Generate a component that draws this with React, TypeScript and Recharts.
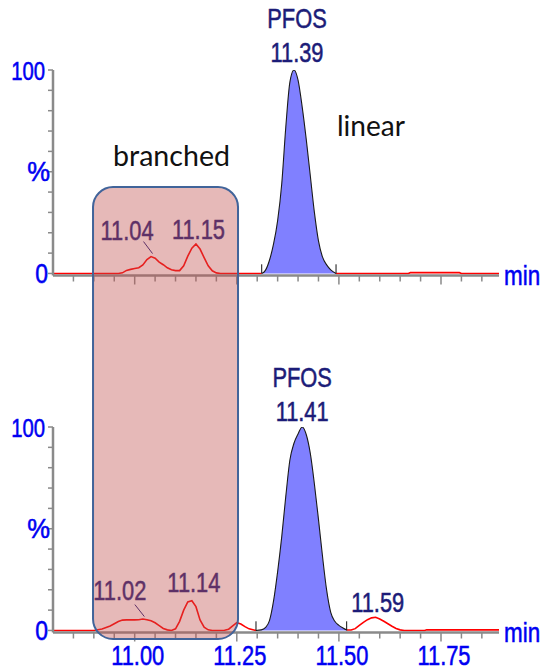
import React from 'react';
import {
  ComposedChart,
  Line,
  Area,
  XAxis,
  YAxis,
  ReferenceDot,
  ReferenceLine,
  ReferenceArea,
} from 'recharts';

const WIDTH = 543;
const HEIGHT = 670;

// Retention time axis (min)
const timeDomain: [number, number] = [10.8, 11.892];
const timeTicks = [
  10.85, 10.9, 10.95, 11.0, 11.05, 11.1, 11.15, 11.2, 11.25, 11.3, 11.35,
  11.4, 11.45, 11.5, 11.55, 11.6, 11.65, 11.7, 11.75, 11.8, 11.85,
];
const timeLabelTicks = [11.0, 11.25, 11.5, 11.75];
const timeLabels = ['11.00', '11.25', '11.50', '11.75'];

// Relative intensity axis (%)
const percentDomain: [number, number] = [-1, 100];
const percentTicks = [0, 10, 20, 30, 40, 50, 60, 70, 80, 90, 100];
const percentLabelTicks = [0, 50, 100];
const percentLabels = ['0', '%', '100'];

// Upper chromatogram
const upperTime = [
  10.8, 10.96, 10.97, 10.98, 10.99, 11.0, 11.01, 11.02, 11.03, 11.04, 11.05,
  11.06, 11.07, 11.08, 11.09, 11.1, 11.11, 11.12, 11.13, 11.14, 11.15, 11.16,
  11.17, 11.18, 11.19, 11.2, 11.21, 11.311, 11.32, 11.33, 11.34, 11.35, 11.36,
  11.37, 11.38, 11.39, 11.4, 11.41, 11.42, 11.43, 11.44, 11.45, 11.46, 11.47,
  11.48, 11.493, 11.67, 11.675, 11.795, 11.8, 11.892,
];
const upperSignal = [
  0, 0, 0.3, 1.5, 2.0, 2.4, 2.8, 4.2, 6.8, 8.3, 7.5,
  5.6, 4.3, 2.8, 1.8, 1.4, 1.4, 3.8, 8.5, 12.4, 14.5, 12.0,
  7.8, 3.8, 1.3, 0.3, 0, 0, 1.5, 6.5, 14.5, 26, 44,
  72, 94, 100, 95, 82, 66, 48, 30, 16, 8, 4.2,
  1.8, 0, 0, 0.4, 0.4, 0, 0,
];
const upperIntegration = [11.311, 11.493];
const upperPeakTimes = [11.04, 11.15, 11.39];
const upperPeakNames = ['', '', 'PFOS'];

// Lower chromatogram
const lowerTime = [
  10.8, 10.9, 10.92, 10.94, 10.95, 10.96, 10.97, 10.98, 10.99, 11.0, 11.01,
  11.02, 11.03, 11.04, 11.05, 11.06, 11.07, 11.08, 11.09, 11.1, 11.11, 11.12,
  11.13, 11.14, 11.15, 11.16, 11.17, 11.18, 11.19, 11.22, 11.23, 11.24, 11.25,
  11.26, 11.27, 11.28, 11.297, 11.31, 11.32, 11.33, 11.34, 11.35, 11.36, 11.37,
  11.38, 11.39, 11.4, 11.41, 11.42, 11.43, 11.44, 11.45, 11.46, 11.47, 11.48,
  11.49, 11.5, 11.51, 11.519, 11.53, 11.54, 11.55, 11.56, 11.57, 11.58, 11.59,
  11.6, 11.61, 11.62, 11.63, 11.64, 11.65, 11.66, 11.71, 11.715, 11.892,
];
const lowerSignal = [
  0, 0, 0.7, 2.2, 3.3, 4.4, 5.1, 5.2, 5.2, 5.2, 5.3,
  5.6, 5.3, 4.8, 3.8, 2.4, 1.0, 0.3, 0, 0.8, 4.5, 10,
  14, 14.6, 11.7, 5.2, 1.6, 0.3, 0, 0.1, 0.6, 2.2, 3.8,
  3.2, 1.9, 0.8, 0, 0.3, 1.4, 4.8, 14.5, 28.9, 46, 66,
  83.8, 92, 96.6, 100, 96.3, 87, 72, 54.6, 36.2, 19.8, 8.9,
  4.5, 2.5, 1.2, 0.2, 0.2, 0.9, 2.5, 4.0, 5.3, 6.2, 6.5,
  5.6, 4.5, 3.3, 2.1, 1.0, 0.3, 0, 0, 0.3, 0.3,
];
const lowerIntegration = [11.297, 11.519];
const lowerPeakTimes = [11.02, 11.14, 11.41, 11.59];
const lowerPeakNames = ['', '', 'PFOS', ''];

// Branched-isomer box: retention window and vertical span (lower trace % units)
const branchedStart = 10.898;
const branchedEnd = 11.253;
const branchedLow = -4.2;
const branchedHigh = 217.9;

// ---- presentation ----
const SOFT_FONT = "'Liberation Sans', Arial, Helvetica, sans-serif";
const NOTE_FONT = "Lato, 'Open Sans', sans-serif";
const AXIS_BLUE = '#0000F2';
const LABEL_NAVY = '#1C1C78';
const AXIS_GREY = '#8A8A8A';
const TRACE_RED = '#FF0000';
const PEAK_FILL = '#8080FF';

const Y_AXIS_WIDTH = 53;
const X_AXIS_HEIGHT = 30;
const upperMargin = { top: 70, bottom: HEIGHT - 275.5 - X_AXIS_HEIGHT, left: 0, right: 44 };
const lowerMargin = { top: 427, bottom: HEIGHT - 632.5 - X_AXIS_HEIGHT, left: 0, right: 44 };

type Placement = { dx: number; dy: number; leader?: [number, number, number, number] };

const upperPlacement: Placement[] = [
  { dx: -24, dy: -17, leader: [-7.5, -15, 1.5, -3] },
  { dx: 2.5, dy: -5 },
  { dx: 3, dy: -8 },
];
const lowerPlacement: Placement[] = [
  { dx: -23, dy: -19, leader: [-8, -14.5, 1.5, -2.5] },
  { dx: 2, dy: -9 },
  { dx: 0, dy: -6 },
  { dx: 2, dy: -5 },
];

// per-label horizontal offset, size and squeeze for the % axis labels
const percentLabelStyle = [
  { dx: -5, size: 27, squeeze: 0.85 },
  { dx: -3, size: 27, squeeze: 0.95 },
  { dx: -8, size: 26, squeeze: 0.78 },
];

type Row = { t: number; trace: number | null; peak: number | null };

// The red trace is drawn outside the integrated window; inside it the filled
// peak (with its own outline) takes over.
function buildRows(times: number[], signal: number[], window: number[]): Row[] {
  return times.map((t, i) => {
    const inside = t >= window[0] - 1e-9 && t <= window[1] + 1e-9;
    const edge = Math.abs(t - window[0]) < 1e-9 || Math.abs(t - window[1]) < 1e-9;
    return {
      t,
      trace: !inside || edge ? signal[i] : null,
      peak: inside ? signal[i] : null,
    };
  });
}

function signalAt(times: number[], signal: number[], t: number): number {
  const i = times.findIndex((v) => Math.abs(v - t) < 1e-9);
  return i >= 0 ? signal[i] : 0;
}

function SquishText(props: {
  x: number;
  y: number;
  children: React.ReactNode;
  size?: number;
  fill?: string;
  anchor?: 'start' | 'middle' | 'end';
  squeeze?: number;
}) {
  const { x, y, children, size = 28, fill = LABEL_NAVY, anchor = 'middle', squeeze = 0.78 } = props;
  return (
    <text
      transform={`translate(${x} ${y}) scale(${squeeze} 1)`}
      textAnchor={anchor}
      fontSize={size}
      fontFamily={SOFT_FONT}
      fill={fill}
      stroke={fill}
      strokeWidth={0.55}
    >
      {children}
    </text>
  );
}

function TimeTick(props: any) {
  const { x, y, payload, showLabel } = props;
  const v = payload.value as number;
  const li = timeLabelTicks.findIndex((m) => Math.abs(m - v) < 1e-6);
  const major = li >= 0;
  return (
    <g>
      <line x1={x} x2={x} y1={y} y2={y + (major ? 9 : 6)} stroke={AXIS_GREY} strokeWidth={1.5} />
      {showLabel && major && (
        <SquishText x={x + 3} y={y + 32} fill={AXIS_BLUE} size={28}>
          {timeLabels[li]}
        </SquishText>
      )}
    </g>
  );
}

function PercentTick(props: any) {
  const { x, y, payload } = props;
  const v = payload.value as number;
  const li = percentLabelTicks.indexOf(v);
  const st = li >= 0 ? percentLabelStyle[li] : null;
  return (
    <g>
      <line x1={x - 5} x2={x} y1={y} y2={y} stroke={AXIS_GREY} strokeWidth={1.5} />
      {st && (
        <SquishText x={x + st.dx} y={y + 9.5} fill={AXIS_BLUE} size={st.size} anchor="end" squeeze={st.squeeze}>
          {percentLabels[li]}
        </SquishText>
      )}
    </g>
  );
}

function MinLabel(props: any) {
  const vb = props.viewBox;
  if (!vb) return null;
  return (
    <SquishText x={vb.x + vb.width + 5} y={vb.y + 9} fill={AXIS_BLUE} size={28} anchor="start" squeeze={0.8}>
      min
    </SquishText>
  );
}

function PeakLabel(props: {
  cx: number;
  cy: number;
  time: number;
  name: string;
  place: Placement;
}) {
  const { cx, cy, time, name, place } = props;
  const x = cx + place.dx;
  const y = cy + place.dy;
  return (
    <g>
      {place.leader && (
        <line
          x1={cx + place.leader[0]}
          y1={cy + place.leader[1]}
          x2={cx + place.leader[2]}
          y2={cy + place.leader[3]}
          stroke={LABEL_NAVY}
          strokeWidth={1}
        />
      )}
      {name && (
        <SquishText x={x} y={y - 34}>
          {name}
        </SquishText>
      )}
      <SquishText x={x} y={y}>
        {time.toFixed(2)}
      </SquishText>
    </g>
  );
}

function Chromatogram(props: {
  times: number[];
  signal: number[];
  integration: number[];
  peakTimes: number[];
  peakNames: string[];
  placement: Placement[];
  margin: { top: number; bottom: number; left: number; right: number };
  showTimeLabels: boolean;
}) {
  const { times, signal, integration, peakTimes, peakNames, placement, margin, showTimeLabels } = props;
  const rows = buildRows(times, signal, integration);
  return (
    <ComposedChart width={WIDTH} height={HEIGHT} data={rows} margin={margin}>
      <XAxis
        dataKey="t"
        type="number"
        domain={timeDomain}
        allowDataOverflow
        ticks={timeTicks}
        interval={0}
        height={X_AXIS_HEIGHT}
        tickSize={0}
        tickMargin={0}
        tickLine={false}
        axisLine={{ stroke: AXIS_GREY, strokeWidth: 2.5 }}
        tick={(p: any) => <TimeTick {...p} showLabel={showTimeLabels} />}
        label={<MinLabel />}
      />
      <YAxis
        type="number"
        domain={percentDomain}
        allowDataOverflow
        ticks={percentTicks}
        interval={0}
        width={Y_AXIS_WIDTH}
        tickSize={0}
        tickMargin={0}
        tickLine={false}
        axisLine={{ stroke: AXIS_GREY, strokeWidth: 2.5 }}
        tick={(p: any) => <PercentTick {...p} />}
      />
      <Line
        dataKey="trace"
        type="linear"
        stroke={TRACE_RED}
        strokeWidth={1.6}
        dot={false}
        activeDot={false}
        connectNulls={false}
        isAnimationActive={false}
      />
      <Area
        dataKey="peak"
        type="monotone"
        stroke="#1a1a1a"
        strokeWidth={1.1}
        fill={PEAK_FILL}
        fillOpacity={1}
        dot={false}
        activeDot={false}
        isAnimationActive={false}
      />
      {integration.map((t) => (
        <ReferenceLine
          key={`mark-${t}`}
          segment={[
            { x: t, y: 0 },
            { x: t, y: 4.5 },
          ]}
          stroke="#111111"
          strokeWidth={1}
        />
      ))}
      {peakTimes.map((t, i) => (
        <ReferenceDot
          key={`peak-${t}`}
          x={t}
          y={signalAt(times, signal, t)}
          r={0}
          shape={(p: any) => (
            <PeakLabel cx={p.cx} cy={p.cy} time={t} name={peakNames[i]} place={placement[i]} />
          )}
        />
      ))}
    </ComposedChart>
  );
}

function BranchedBox() {
  const rows = buildRows(lowerTime, lowerSignal, lowerIntegration);
  return (
    <ComposedChart
      width={WIDTH}
      height={HEIGHT}
      data={rows}
      margin={{ ...lowerMargin, left: Y_AXIS_WIDTH, bottom: lowerMargin.bottom + X_AXIS_HEIGHT }}
    >
      <XAxis dataKey="t" type="number" domain={timeDomain} allowDataOverflow hide />
      <YAxis type="number" domain={percentDomain} allowDataOverflow hide />
      <ReferenceArea
        x1={branchedStart}
        x2={branchedEnd}
        y1={branchedLow}
        y2={branchedHigh}
        ifOverflow="visible"
        shape={(p: any) => {
          const x = Math.min(p.x, p.x + p.width);
          const y = Math.min(p.y, p.y + p.height);
          const w = Math.abs(p.width);
          const h = Math.abs(p.height);
          return (
            <rect
              x={x}
              y={y}
              width={w}
              height={h}
              rx={20}
              ry={20}
              fill="#C0504D"
              fillOpacity={0.4}
              stroke="#41649A"
              strokeWidth={2}
            />
          );
        }}
      />
    </ComposedChart>
  );
}

const layer: React.CSSProperties = { position: 'absolute', left: 0, top: 0 };

export default function App() {
  return (
    <div
      style={{
        position: 'absolute',
        left: 0,
        top: 0,
        width: WIDTH,
        height: HEIGHT,
        background: '#ffffff',
        overflow: 'hidden',
      }}
    >
      <div style={layer}>
        <Chromatogram
          times={upperTime}
          signal={upperSignal}
          integration={upperIntegration}
          peakTimes={upperPeakTimes}
          peakNames={upperPeakNames}
          placement={upperPlacement}
          margin={upperMargin}
          showTimeLabels={false}
        />
      </div>
      <div style={layer}>
        <Chromatogram
          times={lowerTime}
          signal={lowerSignal}
          integration={lowerIntegration}
          peakTimes={lowerPeakTimes}
          peakNames={lowerPeakNames}
          placement={lowerPlacement}
          margin={lowerMargin}
          showTimeLabels={true}
        />
      </div>
      <div style={layer}>
        <BranchedBox />
      </div>
      <svg style={layer} width={WIDTH} height={HEIGHT}>
        <text
          x={171.5}
          y={165.5}
          textAnchor="middle"
          fontSize={28}
          fontFamily={NOTE_FONT}
          fill="#111111"
          textLength={117}
          lengthAdjust="spacingAndGlyphs"
        >
          branched
        </text>
        <text
          x={337}
          y={136}
          textAnchor="start"
          fontSize={28}
          fontFamily={NOTE_FONT}
          fill="#111111"
          textLength={68}
          lengthAdjust="spacingAndGlyphs"
        >
          linear
        </text>
      </svg>
    </div>
  );
}
